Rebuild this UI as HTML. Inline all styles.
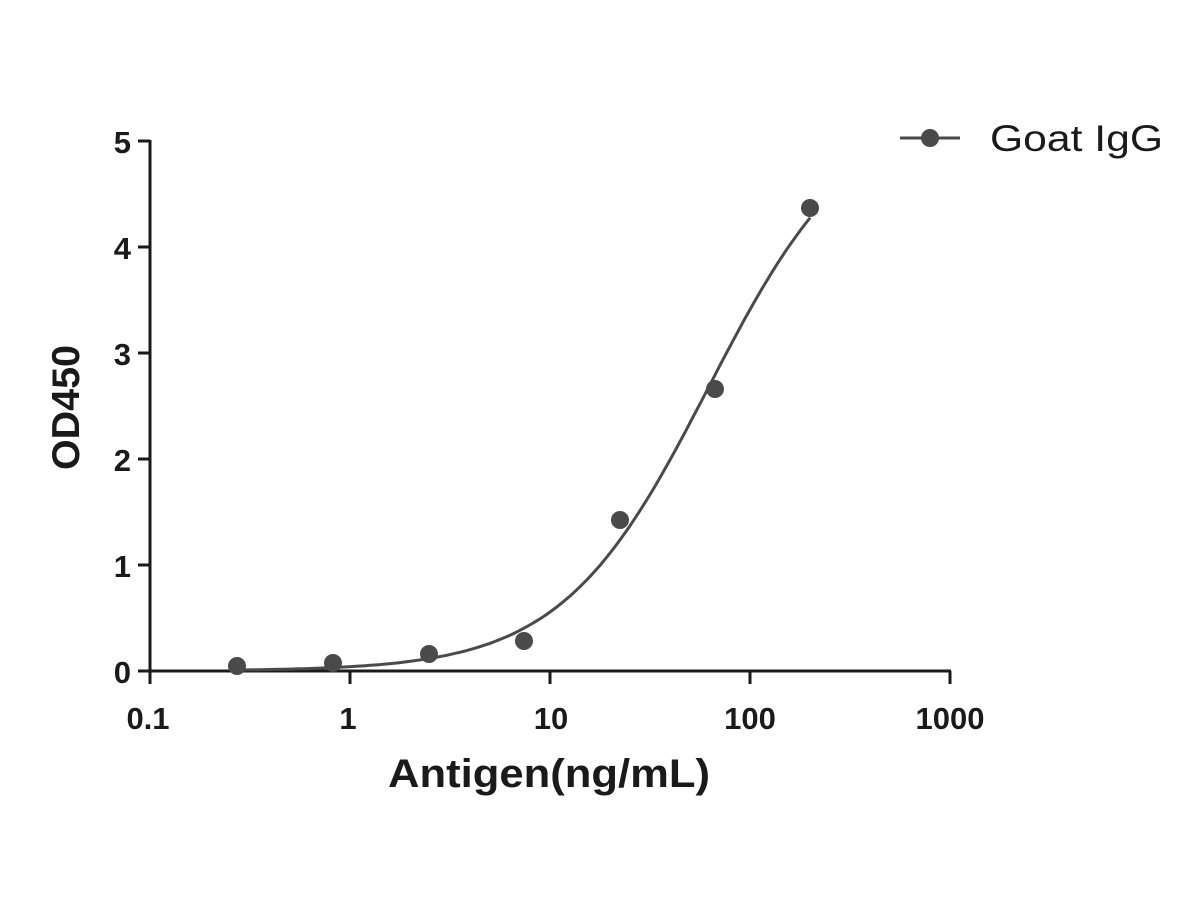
<!DOCTYPE html>
<html><head><meta charset="utf-8"><style>
html,body{margin:0;padding:0;background:#fff;width:1200px;height:900px;overflow:hidden}
text{font-family:"Liberation Sans",Arial,sans-serif;fill:#1a1a1a}
</style></head><body>
<svg id="s" width="1200" height="900" viewBox="0 0 1200 900" xmlns="http://www.w3.org/2000/svg">
<g stroke="#1a1a1a" stroke-width="3" fill="none">
<line x1="150" y1="140" x2="150" y2="672"/>
<line x1="148.5" y1="671" x2="951" y2="671"/>
<line x1="138" y1="141" x2="150" y2="141"/>
<line x1="138" y1="247" x2="150" y2="247"/>
<line x1="138" y1="353" x2="150" y2="353"/>
<line x1="138" y1="459" x2="150" y2="459"/>
<line x1="138" y1="565" x2="150" y2="565"/>
<line x1="138" y1="671" x2="150" y2="671"/>
<line x1="150" y1="671" x2="150" y2="684"/>
<line x1="350" y1="671" x2="350" y2="684"/>
<line x1="550" y1="671" x2="550" y2="684"/>
<line x1="750" y1="671" x2="750" y2="684"/>
<line x1="950" y1="671" x2="950" y2="684"/>
</g>
<g font-size="31" font-weight="bold" text-anchor="end">
<text x="131" y="153">5</text><text x="131" y="259">4</text><text x="131" y="365">3</text>
<text x="131" y="471">2</text><text x="131" y="577">1</text><text x="131" y="683">0</text>
</g>
<g font-size="31" font-weight="bold" text-anchor="middle">
<text x="148" y="729">0.1</text><text x="348" y="729">1</text><text x="551" y="729">10</text>
<text x="750" y="729">100</text><text x="950" y="729">1000</text>
</g>
<text x="388" y="787" font-size="40" font-weight="bold" textLength="322" lengthAdjust="spacingAndGlyphs">Antigen(ng/mL)</text>
<text transform="translate(79,470) rotate(-90)" font-size="39" font-weight="bold" textLength="125" lengthAdjust="spacingAndGlyphs">OD450</text>
<path id="c" stroke="#4a4a4a" stroke-width="3" fill="none" d=""/>
<g fill="#4a4a4a">
<circle cx="237" cy="666" r="9"/><circle cx="333" cy="663" r="9"/><circle cx="429" cy="654" r="9"/>
<circle cx="524" cy="641" r="9"/><circle cx="620" cy="520" r="9"/><circle cx="715" cy="389" r="9"/>
<circle cx="810" cy="208" r="9"/>
</g>
<line x1="900" y1="138" x2="960" y2="138" stroke="#4a4a4a" stroke-width="3"/>
<circle cx="930" cy="138" r="9" fill="#4a4a4a"/>
<text x="990" y="151" font-size="37" textLength="173" lengthAdjust="spacingAndGlyphs">Goat IgG</text>
</svg>
<script>
var d="";for(var i=0;i<=120;i++){var lx=Math.log10(0.27)+(Math.log10(200)-Math.log10(0.27))*i/120;var x=Math.pow(10,lx);var y=5.35/(1+Math.pow(62/x,1.18));var px=150+(lx+1)*200,py=671-y*106;d+=(i?"L":"M")+px.toFixed(1)+" "+py.toFixed(1);}
document.getElementById("c").setAttribute("d",d);
</script>
</body></html>
